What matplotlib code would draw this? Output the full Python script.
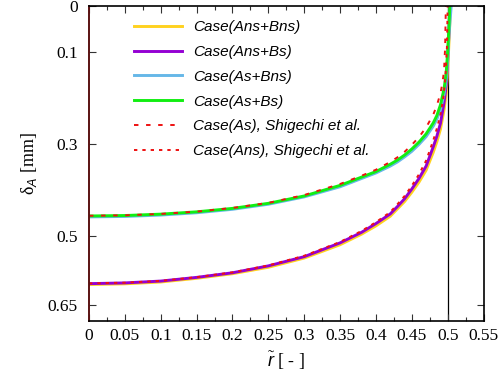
import matplotlib
matplotlib.use("Agg")
import matplotlib.pyplot as plt
from matplotlib.ticker import MultipleLocator, FixedLocator

plt.rcParams['mathtext.fontset'] = 'custom'
plt.rcParams['mathtext.rm'] = 'Liberation Serif'
plt.rcParams['mathtext.it'] = 'Liberation Sans:italic'
plt.rcParams['lines.scale_dashes'] = False

# Dimensionless radius and film thickness delta_A [mm] for each case
r_grid = [0.0, 0.05, 0.10, 0.15, 0.20, 0.25, 0.30, 0.35, 0.38, 0.40, 0.42, 0.43,
          0.44, 0.45, 0.46, 0.47, 0.48, 0.485, 0.49, 0.495, 0.498, 0.500, 0.502]

r_ans_bns = r_grid + [0.504]
d_ans_bns = [0.6055, 0.604, 0.600, 0.592, 0.582, 0.568, 0.548, 0.519, 0.496, 0.478,
             0.457, 0.441, 0.425, 0.405, 0.383, 0.357, 0.318, 0.295, 0.268, 0.226,
             0.190, 0.140, 0.075, 0.0]

r_ans_bs = r_grid + [0.503]
d_ans_bs = [0.6036, 0.602, 0.598, 0.590, 0.580, 0.565, 0.545, 0.515, 0.492, 0.473,
            0.452, 0.436, 0.419, 0.398, 0.375, 0.348, 0.306, 0.283, 0.255, 0.210,
            0.172, 0.120, 0.050, 0.0]

r_as_bns = r_grid + [0.505]
d_as_bns = [0.4585, 0.4575, 0.4545, 0.4495, 0.442, 0.431, 0.415, 0.393, 0.375, 0.363,
            0.348, 0.339, 0.328, 0.316, 0.301, 0.284, 0.261, 0.246, 0.225, 0.192,
            0.160, 0.118, 0.060, 0.0]

r_as_bs = r_grid + [0.503]
d_as_bs = [0.4565, 0.4555, 0.4525, 0.4475, 0.440, 0.429, 0.413, 0.390, 0.372, 0.360,
           0.344, 0.335, 0.324, 0.311, 0.296, 0.278, 0.254, 0.238, 0.215, 0.180,
           0.145, 0.100, 0.040, 0.0]

r_as_shig = [0.0, 0.05, 0.10, 0.15, 0.20, 0.25, 0.30, 0.35, 0.38, 0.40, 0.42, 0.43,
             0.44, 0.45, 0.46, 0.47, 0.48, 0.485, 0.49, 0.493, 0.495, 0.4965, 0.4975]
d_as_shig = [0.4560, 0.4550, 0.4520, 0.4470, 0.439, 0.428, 0.411, 0.387, 0.369, 0.356,
             0.339, 0.329, 0.317, 0.302, 0.285, 0.264, 0.236, 0.216, 0.190, 0.165,
             0.140, 0.090, 0.0]

r_ans_shig = [0.0, 0.05, 0.10, 0.15, 0.20, 0.25, 0.30, 0.35, 0.38, 0.40, 0.42, 0.43,
              0.44, 0.45, 0.46, 0.47, 0.48, 0.485, 0.49, 0.494, 0.497, 0.499, 0.500]
d_ans_shig = [0.6030, 0.6015, 0.5975, 0.5895, 0.579, 0.564, 0.543, 0.513, 0.489, 0.470,
              0.448, 0.431, 0.413, 0.391, 0.366, 0.336, 0.292, 0.266, 0.236, 0.200,
              0.150, 0.090, 0.0]

labels = ["Case(Ans+Bns)", "Case(Ans+Bs)", "Case(As+Bns)", "Case(As+Bs)",
          "Case(As), Shigechi et al.", "Case(Ans), Shigechi et al."]

x_ticks = [0, 0.05, 0.1, 0.15, 0.2, 0.25, 0.3, 0.35, 0.4, 0.45, 0.5, 0.55]
y_ticks = [0, 0.1, 0.3, 0.5, 0.65]

fig = plt.figure(figsize=(5.01, 3.80), dpi=100)
ax = fig.add_axes([89 / 501, 1 - 321 / 380, (483.5 - 89) / 501, (321 - 6) / 380])

lw_solid = 2.1
h1, = ax.plot(r_ans_bns, d_ans_bns, color="#ffd21f", lw=lw_solid, label=labels[0])
h2, = ax.plot(r_ans_bs, d_ans_bs, color="#9400d3", lw=lw_solid, label=labels[1])
h3, = ax.plot(r_as_bns, d_as_bns, color="#66b7e8", lw=lw_solid, label=labels[2])
h4, = ax.plot(r_as_bs, d_as_bs, color="#11ee11", lw=lw_solid, label=labels[3])
h5, = ax.plot(r_as_shig, d_as_shig, color="#ee1111", lw=1.4, dashes=(3.2, 5.5),
              label=labels[4])
h6, = ax.plot(r_ans_shig, d_ans_shig, color="#ee1111", lw=1.4, dashes=(2.4, 3.6),
              label=labels[5])

ax.axvline(0.5, color="black", lw=0.9, zorder=1)

ax.set_xlim(0, 0.55)
ax.set_ylim(0.6848, 0)

ax.xaxis.set_major_locator(FixedLocator(x_ticks))
ax.xaxis.set_minor_locator(MultipleLocator(0.025))
ax.set_xticklabels([f"{v:g}" for v in x_ticks])
ax.yaxis.set_major_locator(FixedLocator(y_ticks))
ax.set_yticklabels([f"{v:g}" for v in y_ticks])

tick_font = dict(family="Liberation Serif", size=12.5)
for lab in ax.get_xticklabels() + ax.get_yticklabels():
    lab.set_fontfamily(tick_font["family"])
    lab.set_fontsize(tick_font["size"])

ax.tick_params(which="both", direction="in", top=True, right=True, width=0.8,
               color="#333333")
ax.tick_params(which="major", length=5.0)
ax.tick_params(which="minor", length=3.0)
ax.tick_params(axis="x", which="major", pad=5)
ax.tick_params(axis="y", which="major", pad=8)

for side in ["top", "right", "bottom"]:
    ax.spines[side].set_linewidth(1.2)
ax.spines["left"].set_linewidth(1.4)
ax.spines["left"].set_color("#5a1212")

ax.set_ylabel("δ$_{A}$ [mm]", fontfamily="Liberation Serif", fontsize=13, labelpad=6)
ax.set_xlabel(r"$\tilde{r}$ [ - ]", fontfamily="Liberation Serif", fontsize=13,
              labelpad=4)

ax.legend(handles=[h1, h2, h3, h4, h5, h6], loc="upper left",
          bbox_to_anchor=(134 / 501, 1 - 20 / 380), bbox_transform=fig.transFigure,
          frameon=False, borderpad=0, borderaxespad=0, handlelength=3.16,
          handletextpad=0.72, labelspacing=0.71,
          prop=dict(family="Liberation Sans", style="italic", size=11))

fig.savefig("out.png", dpi=100)
